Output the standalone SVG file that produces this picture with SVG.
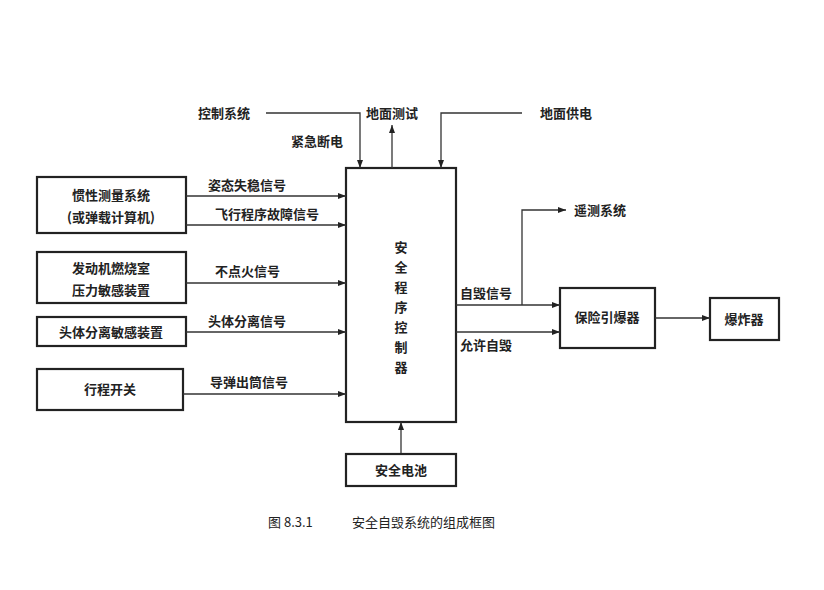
<svg xmlns="http://www.w3.org/2000/svg" width="824" height="590" viewBox="0 0 824 590">
<defs><marker id="a" markerWidth="8" markerHeight="6" refX="8" refY="3" orient="auto" markerUnits="userSpaceOnUse"><path d="M0,0 L8,3 L0,6 Z" fill="#222"/></marker></defs>
<style>
.b{fill:#fff;stroke:#222;stroke-width:2.2}
.l{fill:none;stroke:#333;stroke-width:1.3}
text{font-family:"Noto Sans CJK SC",sans-serif;font-size:13px;fill:#222;font-weight:bold}
.c{text-anchor:middle}
</style>
<rect width="824" height="590" fill="#fff"/>
<g id="controller"><rect class="b" x="346" y="168" width="110" height="254"/>
<text class="c" x="401" y="252">安</text><text class="c" x="401" y="272">全</text><text class="c" x="401" y="292">程</text><text class="c" x="401" y="312">序</text><text class="c" x="401" y="332">控</text><text class="c" x="401" y="352">制</text><text class="c" x="401" y="372">器</text></g>
<g id="imu"><rect class="b" x="37" y="177" width="149" height="56"/><text class="c" x="111" y="200">惯性测量系统</text><text class="c" x="111" y="222">(或弹载计算机)</text></g>
<g id="engine"><rect class="b" x="37" y="252" width="149" height="51"/><text class="c" x="111" y="273">发动机燃烧室</text><text class="c" x="111" y="295">压力敏感装置</text></g>
<g id="sep"><rect class="b" x="37" y="317" width="149" height="29"/><text class="c" x="111" y="337">头体分离敏感装置</text></g>
<g id="switch"><rect class="b" x="37" y="369" width="146" height="41"/><text class="c" x="110" y="394">行程开关</text></g>
<g id="battery"><rect class="b" x="346" y="454" width="110" height="32"/><text class="c" x="401" y="475">安全电池</text></g>
<g id="fuse"><rect class="b" x="560" y="288" width="95" height="60"/><text class="c" x="607" y="322">保险引爆器</text></g>
<g id="exploder"><rect class="b" x="710" y="298" width="69" height="42"/><text class="c" x="744" y="324">爆炸器</text></g>
<g id="connectors">
<path class="l" d="M266,113 H360 V168" marker-end="url(#a)"/>
<path class="l" d="M392,168 V125" marker-end="url(#a)"/>
<path class="l" d="M522,113 H441 V168" marker-end="url(#a)"/>
<path class="l" d="M186,196 H346" marker-end="url(#a)"/>
<path class="l" d="M186,225 H346" marker-end="url(#a)"/>
<path class="l" d="M186,283 H346" marker-end="url(#a)"/>
<path class="l" d="M186,332 H346" marker-end="url(#a)"/>
<path class="l" d="M183,394 H346" marker-end="url(#a)"/>
<path class="l" d="M401,453 V422" marker-end="url(#a)"/>
<path class="l" d="M456,305 H560" marker-end="url(#a)"/>
<path class="l" d="M522,305 V210 H566" marker-end="url(#a)"/>
<path class="l" d="M456,332 H560" marker-end="url(#a)"/>
<path class="l" d="M655,318 H710" marker-end="url(#a)"/>
</g>
<g id="labels">
<text x="198" y="118">控制系统</text>
<text x="291" y="146">紧急断电</text>
<text x="366" y="118">地面测试</text>
<text x="540" y="118">地面供电</text>
<text x="208" y="190">姿态失稳信号</text>
<text x="215" y="219">飞行程序故障信号</text>
<text x="215" y="276">不点火信号</text>
<text x="208" y="326">头体分离信号</text>
<text x="210" y="387">导弹出筒信号</text>
<text x="574" y="215">遥测系统</text>
<text x="460" y="298">自毁信号</text>
<text x="460" y="350">允许自毁</text>
<text x="268" y="527" style="font-weight:normal">图 8.3.1</text>
<text x="352" y="527" style="font-weight:normal">安全自毁系统的组成框图</text>
</g>
</svg>
